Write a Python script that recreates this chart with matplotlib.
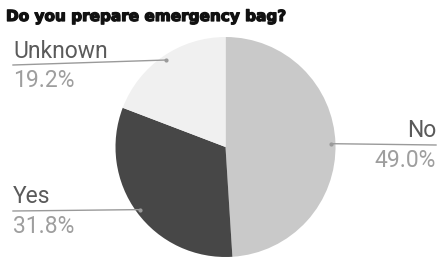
import numpy as np
import matplotlib
matplotlib.use("Agg")
import matplotlib.pyplot as plt
import matplotlib.patheffects as pe

labels = ["No", "Yes", "Unknown"]
values = [49.0, 31.8, 19.2]
colors = ["#c9c9c9", "#474747", "#f0f0f0"]
title = "Do you prepare emergency bag?"

W, H = 437, 258
fig = plt.figure(figsize=(W / 100, H / 100), dpi=100)

# pie axes: center (225.5, 147 from top), radius 110 px
cx, cy, r = 225.5, 147, 110
ax = fig.add_axes([(cx - r) / W, (H - cy - r) / H, 2 * r / W, 2 * r / H])
wedges, _ = ax.pie(values, colors=colors, startangle=90, counterclock=False,
                   radius=1.0, wedgeprops=dict(linewidth=0))
ax.set_xlim(-1, 1)
ax.set_ylim(-1, 1)
ax.set_aspect("auto")
ax.axis("off")

fig.text(6 / W, 1 - 21 / H, title, fontsize=11, fontweight="heavy",
         family="DejaVu Sans", color="#111111", va="baseline",
         path_effects=[pe.withStroke(linewidth=0.9, foreground="#111111")])

def fig_px_to_data(px, py):
    disp = fig.transFigure.transform((px / W, 1 - py / H))
    return ax.transData.inverted().transform(disp)

# label layout: (text x, align, name baseline, line y at text, pct baseline)
layout = {
    "No": (436, "right", 137, 145, 167),
    "Yes": (13, "left", 203, 211, 233),
    "Unknown": (13, "left", 58, 65, 87),
}

for w, lab, val in zip(wedges, labels, values):
    mid = np.deg2rad((w.theta1 + w.theta2) / 2)
    dx, dy = 0.96 * np.cos(mid), 0.96 * np.sin(mid)
    tx, ha, yb, ly, pb = layout[lab]
    sx, sy = fig_px_to_data(tx, ly)
    ax.plot([sx, dx], [sy, dy], color="#9a9a9a", lw=1.0, clip_on=False)
    ax.plot([dx], [dy], "o", color="#9a9a9a", ms=2, clip_on=False)
    fig.text(tx / W, 1 - yb / H, lab, fontsize=16.5, family="Roboto",
             color="#5a5a5a", ha=ha, va="baseline")
    fig.text(tx / W, 1 - pb / H, f"{val:.1f}%", fontsize=16.5, family="Roboto",
             color="#9e9e9e", ha=ha, va="baseline")

fig.savefig("out.png", dpi=100)
